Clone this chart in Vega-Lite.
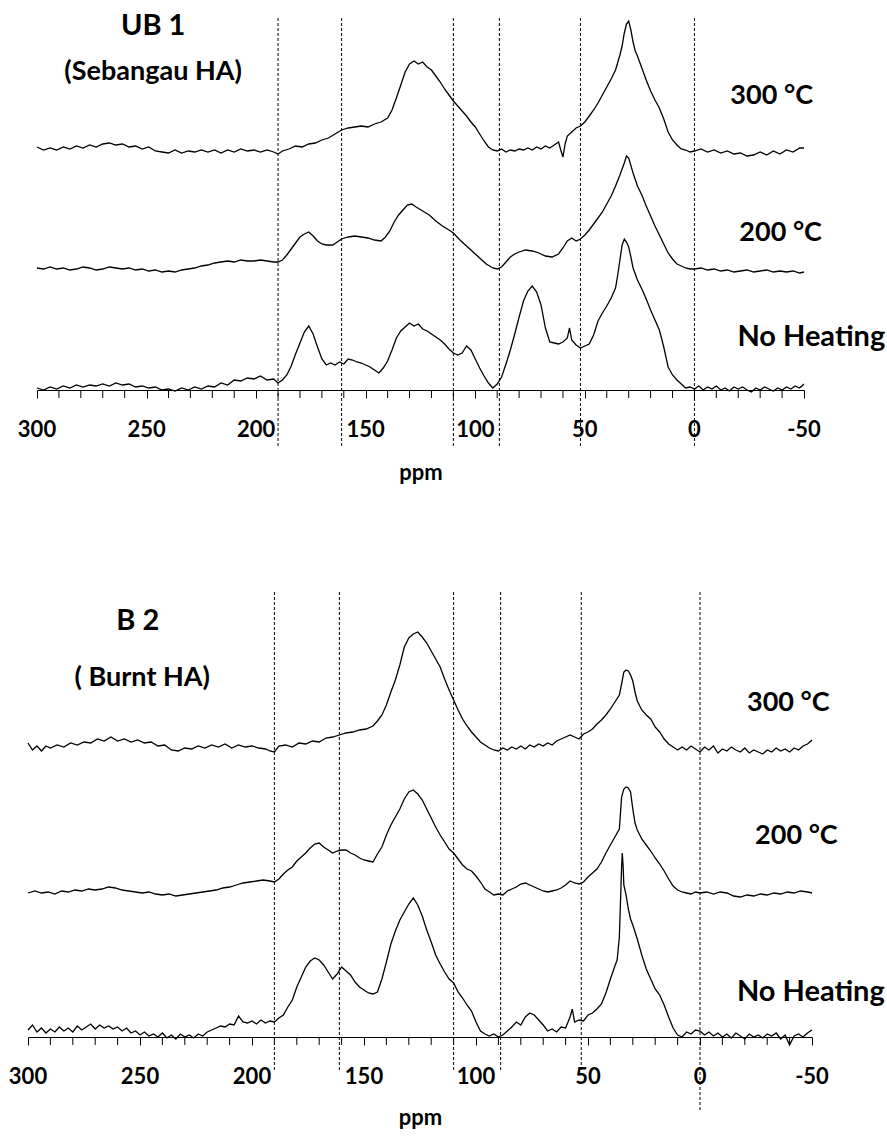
{
 "$schema": "https://vega.github.io/schema/vega-lite/v6.json",
 "background": "white",
 "padding": {"left": 8, "top": 11, "right": 5, "bottom": 5},
 "spacing": 107,
 "config": {"view": {"stroke": null}, "font": "Lato"},
 "datasets": {
  "minor": [{"ppm":290},{"ppm":280},{"ppm":270},{"ppm":260},{"ppm":240},{"ppm":230},{"ppm":220},{"ppm":210},{"ppm":190},{"ppm":180},{"ppm":170},{"ppm":160},{"ppm":140},{"ppm":130},{"ppm":120},{"ppm":110},{"ppm":90},{"ppm":80},{"ppm":70},{"ppm":60},{"ppm":40},{"ppm":30},{"ppm":20},{"ppm":10},{"ppm":-10},{"ppm":-20},{"ppm":-30},{"ppm":-40}],
  "ticklabels": [{"ppm":300,"label":"300"},{"ppm":250,"label":"250"},{"ppm":200,"label":"200"},{"ppm":150,"label":"150"},{"ppm":100,"label":"100"},{"ppm":50,"label":"50"},{"ppm":0,"label":"0"},{"ppm":-50,"label":"-50"}],
  "ub300": [{"ppm":300,"v":243},{"ppm":297,"v":240},{"ppm":294,"v":242},{"ppm":291,"v":240},{"ppm":288,"v":243},{"ppm":285,"v":241},{"ppm":282,"v":244},{"ppm":279,"v":242},{"ppm":276,"v":245},{"ppm":273,"v":243},{"ppm":270,"v":246},{"ppm":267,"v":247},{"ppm":264,"v":245},{"ppm":261,"v":246},{"ppm":258,"v":243},{"ppm":255,"v":244},{"ppm":252,"v":241},{"ppm":249,"v":243},{"ppm":246,"v":239},{"ppm":243,"v":238},{"ppm":240,"v":237},{"ppm":237,"v":240},{"ppm":234,"v":237},{"ppm":231,"v":239},{"ppm":228,"v":238},{"ppm":225,"v":240},{"ppm":222,"v":238},{"ppm":219,"v":240},{"ppm":216,"v":237},{"ppm":213,"v":240},{"ppm":210,"v":238},{"ppm":207,"v":241},{"ppm":204,"v":239},{"ppm":201,"v":240},{"ppm":198,"v":238},{"ppm":195,"v":240},{"ppm":192,"v":238},{"ppm":190,"v":236},{"ppm":188,"v":239},{"ppm":185,"v":241},{"ppm":182,"v":244},{"ppm":179,"v":243},{"ppm":176,"v":246},{"ppm":173,"v":247},{"ppm":170,"v":250},{"ppm":167,"v":252},{"ppm":164,"v":256},{"ppm":161,"v":260},{"ppm":158,"v":262},{"ppm":155,"v":263},{"ppm":152,"v":264},{"ppm":149,"v":263},{"ppm":146,"v":266},{"ppm":143,"v":268},{"ppm":140,"v":272},{"ppm":138,"v":280},{"ppm":136,"v":292},{"ppm":134,"v":305},{"ppm":132,"v":318},{"ppm":130,"v":326},{"ppm":128,"v":329},{"ppm":126,"v":326},{"ppm":124,"v":328},{"ppm":122,"v":323},{"ppm":120,"v":320},{"ppm":118,"v":314},{"ppm":116,"v":308},{"ppm":114,"v":301},{"ppm":112,"v":295},{"ppm":110,"v":289},{"ppm":108,"v":284},{"ppm":106,"v":279},{"ppm":104,"v":274},{"ppm":102,"v":268},{"ppm":100,"v":263},{"ppm":98,"v":256},{"ppm":96,"v":249},{"ppm":94,"v":243},{"ppm":92,"v":240},{"ppm":90,"v":239},{"ppm":88,"v":241},{"ppm":86,"v":238},{"ppm":84,"v":240},{"ppm":82,"v":239},{"ppm":80,"v":241},{"ppm":78,"v":240},{"ppm":76,"v":242},{"ppm":74,"v":240},{"ppm":72,"v":243},{"ppm":70,"v":241},{"ppm":68,"v":244},{"ppm":66,"v":242},{"ppm":64,"v":245},{"ppm":62,"v":248},{"ppm":61,"v":240},{"ppm":60,"v":233},{"ppm":59,"v":246},{"ppm":58,"v":254},{"ppm":56,"v":258},{"ppm":54,"v":262},{"ppm":52,"v":264},{"ppm":50,"v":268},{"ppm":48,"v":274},{"ppm":46,"v":280},{"ppm":44,"v":287},{"ppm":42,"v":295},{"ppm":40,"v":303},{"ppm":38,"v":311},{"ppm":36,"v":320},{"ppm":34,"v":335},{"ppm":33,"v":344},{"ppm":32,"v":357},{"ppm":31,"v":366},{"ppm":30,"v":369},{"ppm":29,"v":360},{"ppm":28,"v":348},{"ppm":27,"v":339},{"ppm":26,"v":334},{"ppm":24,"v":322},{"ppm":22,"v":310},{"ppm":20,"v":299},{"ppm":18,"v":290},{"ppm":16,"v":282},{"ppm":14,"v":271},{"ppm":12,"v":258},{"ppm":10,"v":250},{"ppm":8,"v":245},{"ppm":6,"v":241},{"ppm":4,"v":240},{"ppm":2,"v":238},{"ppm":0,"v":239},{"ppm":-3,"v":241},{"ppm":-6,"v":238},{"ppm":-9,"v":240},{"ppm":-12,"v":237},{"ppm":-15,"v":239},{"ppm":-18,"v":236},{"ppm":-21,"v":237},{"ppm":-24,"v":234},{"ppm":-27,"v":235},{"ppm":-30,"v":238},{"ppm":-33,"v":235},{"ppm":-36,"v":239},{"ppm":-39,"v":236},{"ppm":-42,"v":240},{"ppm":-45,"v":238},{"ppm":-48,"v":242},{"ppm":-50,"v":242}],
  "ub200": [{"ppm":300,"v":122},{"ppm":297,"v":121},{"ppm":294,"v":123},{"ppm":291,"v":121},{"ppm":288,"v":122},{"ppm":285,"v":120},{"ppm":282,"v":121},{"ppm":279,"v":123},{"ppm":276,"v":122},{"ppm":273,"v":120},{"ppm":270,"v":121},{"ppm":267,"v":123},{"ppm":264,"v":122},{"ppm":261,"v":121},{"ppm":258,"v":122},{"ppm":255,"v":120},{"ppm":252,"v":121},{"ppm":249,"v":119},{"ppm":246,"v":120},{"ppm":243,"v":118},{"ppm":240,"v":119},{"ppm":237,"v":118},{"ppm":234,"v":120},{"ppm":231,"v":121},{"ppm":228,"v":122},{"ppm":225,"v":124},{"ppm":222,"v":125},{"ppm":219,"v":127},{"ppm":216,"v":128},{"ppm":213,"v":129},{"ppm":210,"v":128},{"ppm":207,"v":130},{"ppm":204,"v":129},{"ppm":201,"v":129},{"ppm":198,"v":130},{"ppm":195,"v":129},{"ppm":192,"v":128},{"ppm":190,"v":128},{"ppm":188,"v":130},{"ppm":186,"v":135},{"ppm":184,"v":141},{"ppm":182,"v":147},{"ppm":180,"v":153},{"ppm":178,"v":156},{"ppm":176,"v":158},{"ppm":174,"v":154},{"ppm":172,"v":149},{"ppm":170,"v":146},{"ppm":168,"v":145},{"ppm":165,"v":145},{"ppm":163,"v":148},{"ppm":161,"v":151},{"ppm":158,"v":153},{"ppm":155,"v":154},{"ppm":152,"v":153},{"ppm":149,"v":152},{"ppm":146,"v":150},{"ppm":143,"v":149},{"ppm":141,"v":153},{"ppm":139,"v":159},{"ppm":137,"v":168},{"ppm":135,"v":175},{"ppm":133,"v":180},{"ppm":131,"v":185},{"ppm":129,"v":186},{"ppm":127,"v":183},{"ppm":124,"v":179},{"ppm":121,"v":175},{"ppm":118,"v":169},{"ppm":115,"v":164},{"ppm":112,"v":160},{"ppm":110,"v":157},{"ppm":107,"v":150},{"ppm":104,"v":144},{"ppm":101,"v":138},{"ppm":98,"v":132},{"ppm":95,"v":126},{"ppm":92,"v":122},{"ppm":90,"v":121},{"ppm":88,"v":123},{"ppm":86,"v":128},{"ppm":84,"v":133},{"ppm":82,"v":136},{"ppm":80,"v":138},{"ppm":77,"v":140},{"ppm":74,"v":139},{"ppm":71,"v":137},{"ppm":68,"v":134},{"ppm":65,"v":133},{"ppm":62,"v":136},{"ppm":60,"v":142},{"ppm":58,"v":149},{"ppm":56,"v":152},{"ppm":54,"v":149},{"ppm":52,"v":151},{"ppm":50,"v":155},{"ppm":48,"v":160},{"ppm":46,"v":166},{"ppm":44,"v":172},{"ppm":42,"v":178},{"ppm":40,"v":186},{"ppm":38,"v":194},{"ppm":36,"v":204},{"ppm":34,"v":215},{"ppm":32,"v":227},{"ppm":31,"v":234},{"ppm":30,"v":232},{"ppm":28,"v":217},{"ppm":26,"v":204},{"ppm":24,"v":195},{"ppm":22,"v":184},{"ppm":20,"v":174},{"ppm":18,"v":164},{"ppm":16,"v":155},{"ppm":14,"v":146},{"ppm":12,"v":137},{"ppm":10,"v":131},{"ppm":8,"v":126},{"ppm":6,"v":124},{"ppm":4,"v":122},{"ppm":2,"v":121},{"ppm":0,"v":121},{"ppm":-3,"v":122},{"ppm":-6,"v":120},{"ppm":-9,"v":121},{"ppm":-12,"v":119},{"ppm":-15,"v":120},{"ppm":-18,"v":118},{"ppm":-21,"v":119},{"ppm":-24,"v":120},{"ppm":-27,"v":118},{"ppm":-30,"v":119},{"ppm":-33,"v":120},{"ppm":-36,"v":118},{"ppm":-39,"v":119},{"ppm":-42,"v":118},{"ppm":-45,"v":119},{"ppm":-48,"v":117},{"ppm":-50,"v":118}],
  "ubnh": [{"ppm":300,"v":2},{"ppm":297,"v":0},{"ppm":294,"v":3},{"ppm":291,"v":1},{"ppm":288,"v":4},{"ppm":285,"v":2},{"ppm":282,"v":5},{"ppm":279,"v":3},{"ppm":276,"v":5},{"ppm":273,"v":4},{"ppm":270,"v":6},{"ppm":267,"v":4},{"ppm":264,"v":7},{"ppm":261,"v":5},{"ppm":258,"v":6},{"ppm":255,"v":3},{"ppm":252,"v":4},{"ppm":249,"v":2},{"ppm":246,"v":3},{"ppm":243,"v":0},{"ppm":240,"v":1},{"ppm":237,"v":-1},{"ppm":234,"v":2},{"ppm":231,"v":0},{"ppm":228,"v":3},{"ppm":225,"v":1},{"ppm":222,"v":4},{"ppm":219,"v":3},{"ppm":216,"v":7},{"ppm":213,"v":5},{"ppm":210,"v":10},{"ppm":207,"v":9},{"ppm":204,"v":12},{"ppm":201,"v":11},{"ppm":198,"v":14},{"ppm":195,"v":10},{"ppm":192,"v":11},{"ppm":190,"v":7},{"ppm":188,"v":10},{"ppm":186,"v":15},{"ppm":184,"v":24},{"ppm":182,"v":36},{"ppm":180,"v":47},{"ppm":178,"v":58},{"ppm":176,"v":64},{"ppm":174,"v":56},{"ppm":172,"v":43},{"ppm":170,"v":31},{"ppm":168,"v":25},{"ppm":166,"v":27},{"ppm":164,"v":25},{"ppm":162,"v":28},{"ppm":160,"v":26},{"ppm":158,"v":31},{"ppm":156,"v":30},{"ppm":154,"v":28},{"ppm":152,"v":27},{"ppm":150,"v":25},{"ppm":148,"v":23},{"ppm":146,"v":20},{"ppm":144,"v":17},{"ppm":142,"v":22},{"ppm":140,"v":29},{"ppm":138,"v":40},{"ppm":136,"v":52},{"ppm":134,"v":59},{"ppm":132,"v":63},{"ppm":130,"v":67},{"ppm":128,"v":64},{"ppm":126,"v":66},{"ppm":124,"v":61},{"ppm":122,"v":59},{"ppm":120,"v":56},{"ppm":118,"v":53},{"ppm":116,"v":50},{"ppm":114,"v":46},{"ppm":112,"v":41},{"ppm":110,"v":37},{"ppm":108,"v":35},{"ppm":106,"v":37},{"ppm":104,"v":44},{"ppm":102,"v":40},{"ppm":100,"v":31},{"ppm":98,"v":22},{"ppm":96,"v":14},{"ppm":94,"v":7},{"ppm":92,"v":2},{"ppm":90,"v":6},{"ppm":88,"v":13},{"ppm":86,"v":26},{"ppm":84,"v":40},{"ppm":82,"v":56},{"ppm":80,"v":73},{"ppm":78,"v":89},{"ppm":76,"v":99},{"ppm":74,"v":104},{"ppm":72,"v":98},{"ppm":70,"v":85},{"ppm":68,"v":62},{"ppm":66,"v":48},{"ppm":64,"v":47},{"ppm":62,"v":46},{"ppm":60,"v":48},{"ppm":58,"v":52},{"ppm":57,"v":62},{"ppm":56,"v":50},{"ppm":54,"v":45},{"ppm":52,"v":42},{"ppm":50,"v":44},{"ppm":48,"v":46},{"ppm":46,"v":55},{"ppm":44,"v":69},{"ppm":42,"v":77},{"ppm":40,"v":84},{"ppm":38,"v":92},{"ppm":36,"v":102},{"ppm":35,"v":115},{"ppm":34,"v":130},{"ppm":33,"v":145},{"ppm":32,"v":151},{"ppm":31,"v":148},{"ppm":30,"v":143},{"ppm":29,"v":133},{"ppm":28,"v":122},{"ppm":26,"v":110},{"ppm":24,"v":101},{"ppm":22,"v":91},{"ppm":20,"v":80},{"ppm":18,"v":70},{"ppm":16,"v":60},{"ppm":14,"v":43},{"ppm":12,"v":23},{"ppm":10,"v":15},{"ppm":8,"v":10},{"ppm":6,"v":6},{"ppm":4,"v":2},{"ppm":2,"v":3},{"ppm":0,"v":1},{"ppm":-2,"v":4},{"ppm":-4,"v":0},{"ppm":-6,"v":3},{"ppm":-8,"v":1},{"ppm":-10,"v":4},{"ppm":-12,"v":0},{"ppm":-14,"v":2},{"ppm":-16,"v":-1},{"ppm":-18,"v":3},{"ppm":-20,"v":1},{"ppm":-22,"v":3},{"ppm":-24,"v":0},{"ppm":-26,"v":-2},{"ppm":-28,"v":2},{"ppm":-30,"v":0},{"ppm":-32,"v":3},{"ppm":-34,"v":1},{"ppm":-36,"v":-1},{"ppm":-38,"v":2},{"ppm":-40,"v":0},{"ppm":-42,"v":3},{"ppm":-44,"v":1},{"ppm":-46,"v":4},{"ppm":-48,"v":2},{"ppm":-50,"v":6}],
  "b300": [{"ppm":300,"v":294},{"ppm":298,"v":287},{"ppm":296,"v":291},{"ppm":294,"v":286},{"ppm":292,"v":291},{"ppm":290,"v":289},{"ppm":287,"v":292},{"ppm":284,"v":290},{"ppm":281,"v":294},{"ppm":278,"v":292},{"ppm":275,"v":295},{"ppm":272,"v":294},{"ppm":269,"v":298},{"ppm":266,"v":296},{"ppm":263,"v":300},{"ppm":260,"v":296},{"ppm":257,"v":298},{"ppm":254,"v":295},{"ppm":251,"v":297},{"ppm":248,"v":294},{"ppm":245,"v":295},{"ppm":242,"v":291},{"ppm":239,"v":292},{"ppm":236,"v":287},{"ppm":233,"v":286},{"ppm":230,"v":289},{"ppm":227,"v":288},{"ppm":224,"v":291},{"ppm":221,"v":289},{"ppm":218,"v":292},{"ppm":215,"v":290},{"ppm":212,"v":293},{"ppm":209,"v":289},{"ppm":206,"v":292},{"ppm":203,"v":290},{"ppm":200,"v":291},{"ppm":197,"v":289},{"ppm":194,"v":288},{"ppm":192,"v":286},{"ppm":190,"v":285},{"ppm":188,"v":291},{"ppm":185,"v":292},{"ppm":182,"v":290},{"ppm":179,"v":294},{"ppm":176,"v":293},{"ppm":173,"v":296},{"ppm":170,"v":295},{"ppm":167,"v":299},{"ppm":164,"v":300},{"ppm":161,"v":302},{"ppm":158,"v":304},{"ppm":155,"v":305},{"ppm":152,"v":307},{"ppm":149,"v":308},{"ppm":146,"v":311},{"ppm":144,"v":316},{"ppm":142,"v":322},{"ppm":140,"v":332},{"ppm":138,"v":345},{"ppm":136,"v":357},{"ppm":134,"v":372},{"ppm":132,"v":390},{"ppm":130,"v":399},{"ppm":128,"v":403},{"ppm":126,"v":405},{"ppm":124,"v":400},{"ppm":122,"v":394},{"ppm":120,"v":386},{"ppm":118,"v":378},{"ppm":116,"v":370},{"ppm":114,"v":358},{"ppm":112,"v":347},{"ppm":110,"v":337},{"ppm":108,"v":327},{"ppm":106,"v":318},{"ppm":104,"v":311},{"ppm":102,"v":305},{"ppm":100,"v":300},{"ppm":98,"v":295},{"ppm":96,"v":292},{"ppm":94,"v":289},{"ppm":92,"v":287},{"ppm":90,"v":286},{"ppm":88,"v":289},{"ppm":86,"v":287},{"ppm":84,"v":290},{"ppm":82,"v":288},{"ppm":80,"v":291},{"ppm":78,"v":288},{"ppm":76,"v":292},{"ppm":74,"v":290},{"ppm":72,"v":293},{"ppm":70,"v":291},{"ppm":68,"v":294},{"ppm":66,"v":292},{"ppm":64,"v":296},{"ppm":62,"v":298},{"ppm":60,"v":300},{"ppm":58,"v":302},{"ppm":56,"v":300},{"ppm":54,"v":298},{"ppm":52,"v":303},{"ppm":50,"v":305},{"ppm":48,"v":308},{"ppm":46,"v":313},{"ppm":44,"v":317},{"ppm":42,"v":322},{"ppm":40,"v":328},{"ppm":38,"v":335},{"ppm":36,"v":342},{"ppm":35,"v":353},{"ppm":34,"v":365},{"ppm":33,"v":367},{"ppm":32,"v":366},{"ppm":31,"v":362},{"ppm":30,"v":356},{"ppm":29,"v":345},{"ppm":28,"v":336},{"ppm":26,"v":327},{"ppm":24,"v":322},{"ppm":22,"v":318},{"ppm":20,"v":310},{"ppm":18,"v":305},{"ppm":16,"v":298},{"ppm":14,"v":293},{"ppm":12,"v":290},{"ppm":10,"v":287},{"ppm":8,"v":290},{"ppm":6,"v":287},{"ppm":4,"v":291},{"ppm":2,"v":288},{"ppm":0,"v":285},{"ppm":-2,"v":290},{"ppm":-4,"v":287},{"ppm":-6,"v":291},{"ppm":-8,"v":284},{"ppm":-10,"v":288},{"ppm":-12,"v":286},{"ppm":-14,"v":290},{"ppm":-16,"v":287},{"ppm":-18,"v":285},{"ppm":-20,"v":289},{"ppm":-22,"v":284},{"ppm":-24,"v":287},{"ppm":-26,"v":285},{"ppm":-28,"v":283},{"ppm":-30,"v":287},{"ppm":-32,"v":285},{"ppm":-34,"v":289},{"ppm":-36,"v":286},{"ppm":-38,"v":288},{"ppm":-40,"v":285},{"ppm":-42,"v":289},{"ppm":-44,"v":287},{"ppm":-46,"v":291},{"ppm":-48,"v":293},{"ppm":-50,"v":297}],
  "b200": [{"ppm":300,"v":144},{"ppm":297,"v":146},{"ppm":294,"v":144},{"ppm":291,"v":145},{"ppm":288,"v":143},{"ppm":285,"v":146},{"ppm":282,"v":145},{"ppm":279,"v":147},{"ppm":276,"v":146},{"ppm":273,"v":148},{"ppm":270,"v":147},{"ppm":267,"v":148},{"ppm":264,"v":150},{"ppm":261,"v":149},{"ppm":258,"v":147},{"ppm":255,"v":146},{"ppm":252,"v":145},{"ppm":249,"v":144},{"ppm":246,"v":145},{"ppm":243,"v":143},{"ppm":240,"v":142},{"ppm":237,"v":143},{"ppm":234,"v":141},{"ppm":231,"v":142},{"ppm":228,"v":143},{"ppm":225,"v":144},{"ppm":222,"v":145},{"ppm":219,"v":146},{"ppm":216,"v":147},{"ppm":213,"v":149},{"ppm":210,"v":150},{"ppm":207,"v":152},{"ppm":204,"v":154},{"ppm":201,"v":155},{"ppm":198,"v":156},{"ppm":195,"v":157},{"ppm":192,"v":156},{"ppm":190,"v":155},{"ppm":188,"v":158},{"ppm":186,"v":163},{"ppm":184,"v":167},{"ppm":182,"v":170},{"ppm":180,"v":176},{"ppm":178,"v":180},{"ppm":176,"v":184},{"ppm":174,"v":189},{"ppm":172,"v":193},{"ppm":170,"v":194},{"ppm":168,"v":190},{"ppm":166,"v":187},{"ppm":164,"v":184},{"ppm":162,"v":186},{"ppm":160,"v":187},{"ppm":158,"v":187},{"ppm":156,"v":184},{"ppm":154,"v":182},{"ppm":152,"v":179},{"ppm":150,"v":177},{"ppm":148,"v":176},{"ppm":146,"v":175},{"ppm":144,"v":183},{"ppm":142,"v":190},{"ppm":140,"v":202},{"ppm":138,"v":212},{"ppm":136,"v":220},{"ppm":134,"v":228},{"ppm":132,"v":238},{"ppm":130,"v":245},{"ppm":128,"v":247},{"ppm":126,"v":243},{"ppm":124,"v":237},{"ppm":122,"v":228},{"ppm":120,"v":219},{"ppm":118,"v":210},{"ppm":116,"v":202},{"ppm":114,"v":195},{"ppm":112,"v":188},{"ppm":110,"v":184},{"ppm":108,"v":178},{"ppm":106,"v":172},{"ppm":104,"v":168},{"ppm":102,"v":166},{"ppm":100,"v":161},{"ppm":98,"v":155},{"ppm":96,"v":148},{"ppm":94,"v":145},{"ppm":92,"v":142},{"ppm":90,"v":143},{"ppm":88,"v":142},{"ppm":86,"v":146},{"ppm":84,"v":148},{"ppm":82,"v":150},{"ppm":80,"v":153},{"ppm":78,"v":154},{"ppm":76,"v":152},{"ppm":74,"v":150},{"ppm":72,"v":148},{"ppm":70,"v":146},{"ppm":68,"v":145},{"ppm":66,"v":146},{"ppm":64,"v":147},{"ppm":62,"v":149},{"ppm":60,"v":152},{"ppm":58,"v":156},{"ppm":56,"v":154},{"ppm":54,"v":153},{"ppm":52,"v":155},{"ppm":50,"v":160},{"ppm":48,"v":164},{"ppm":46,"v":168},{"ppm":44,"v":175},{"ppm":42,"v":184},{"ppm":40,"v":192},{"ppm":38,"v":200},{"ppm":36,"v":208},{"ppm":35,"v":240},{"ppm":34,"v":248},{"ppm":33,"v":250},{"ppm":32,"v":249},{"ppm":31,"v":245},{"ppm":30,"v":228},{"ppm":29,"v":214},{"ppm":28,"v":207},{"ppm":26,"v":198},{"ppm":24,"v":192},{"ppm":22,"v":186},{"ppm":20,"v":179},{"ppm":18,"v":173},{"ppm":16,"v":166},{"ppm":14,"v":158},{"ppm":12,"v":151},{"ppm":10,"v":147},{"ppm":8,"v":145},{"ppm":6,"v":144},{"ppm":4,"v":143},{"ppm":2,"v":145},{"ppm":0,"v":144},{"ppm":-3,"v":145},{"ppm":-6,"v":143},{"ppm":-9,"v":145},{"ppm":-12,"v":144},{"ppm":-15,"v":141},{"ppm":-18,"v":140},{"ppm":-21,"v":142},{"ppm":-24,"v":141},{"ppm":-27,"v":143},{"ppm":-30,"v":142},{"ppm":-33,"v":144},{"ppm":-36,"v":143},{"ppm":-39,"v":145},{"ppm":-42,"v":144},{"ppm":-45,"v":146},{"ppm":-48,"v":145},{"ppm":-50,"v":144}],
  "bnh": [{"ppm":300,"v":7},{"ppm":298,"v":12},{"ppm":296,"v":5},{"ppm":294,"v":9},{"ppm":292,"v":4},{"ppm":290,"v":8},{"ppm":288,"v":5},{"ppm":286,"v":10},{"ppm":284,"v":6},{"ppm":282,"v":9},{"ppm":280,"v":5},{"ppm":278,"v":11},{"ppm":276,"v":7},{"ppm":274,"v":10},{"ppm":272,"v":13},{"ppm":270,"v":8},{"ppm":268,"v":12},{"ppm":266,"v":9},{"ppm":264,"v":11},{"ppm":262,"v":8},{"ppm":260,"v":10},{"ppm":258,"v":6},{"ppm":256,"v":9},{"ppm":254,"v":4},{"ppm":252,"v":6},{"ppm":250,"v":2},{"ppm":248,"v":5},{"ppm":246,"v":1},{"ppm":244,"v":3},{"ppm":242,"v":0},{"ppm":240,"v":4},{"ppm":238,"v":-1},{"ppm":236,"v":2},{"ppm":234,"v":-2},{"ppm":232,"v":3},{"ppm":230,"v":0},{"ppm":228,"v":2},{"ppm":226,"v":-1},{"ppm":224,"v":3},{"ppm":222,"v":1},{"ppm":220,"v":5},{"ppm":218,"v":7},{"ppm":216,"v":9},{"ppm":214,"v":11},{"ppm":212,"v":10},{"ppm":210,"v":13},{"ppm":208,"v":12},{"ppm":206,"v":21},{"ppm":204,"v":15},{"ppm":202,"v":14},{"ppm":200,"v":16},{"ppm":198,"v":13},{"ppm":196,"v":17},{"ppm":194,"v":14},{"ppm":192,"v":16},{"ppm":190,"v":15},{"ppm":188,"v":19},{"ppm":186,"v":22},{"ppm":184,"v":30},{"ppm":182,"v":37},{"ppm":180,"v":50},{"ppm":178,"v":60},{"ppm":176,"v":70},{"ppm":174,"v":76},{"ppm":172,"v":79},{"ppm":170,"v":77},{"ppm":168,"v":72},{"ppm":166,"v":65},{"ppm":164,"v":58},{"ppm":162,"v":63},{"ppm":160,"v":70},{"ppm":158,"v":66},{"ppm":156,"v":62},{"ppm":154,"v":55},{"ppm":152,"v":50},{"ppm":150,"v":47},{"ppm":148,"v":44},{"ppm":146,"v":43},{"ppm":144,"v":45},{"ppm":142,"v":58},{"ppm":140,"v":75},{"ppm":138,"v":93},{"ppm":136,"v":106},{"ppm":134,"v":117},{"ppm":132,"v":125},{"ppm":130,"v":133},{"ppm":128,"v":139},{"ppm":126,"v":132},{"ppm":124,"v":121},{"ppm":122,"v":107},{"ppm":120,"v":95},{"ppm":118,"v":82},{"ppm":116,"v":73},{"ppm":114,"v":65},{"ppm":112,"v":58},{"ppm":110,"v":54},{"ppm":108,"v":45},{"ppm":106,"v":39},{"ppm":104,"v":32},{"ppm":102,"v":26},{"ppm":100,"v":15},{"ppm":98,"v":6},{"ppm":96,"v":3},{"ppm":94,"v":1},{"ppm":92,"v":3},{"ppm":90,"v":0},{"ppm":88,"v":2},{"ppm":86,"v":6},{"ppm":84,"v":10},{"ppm":82,"v":15},{"ppm":80,"v":12},{"ppm":78,"v":20},{"ppm":76,"v":24},{"ppm":74,"v":22},{"ppm":72,"v":17},{"ppm":70,"v":12},{"ppm":68,"v":6},{"ppm":66,"v":8},{"ppm":64,"v":5},{"ppm":62,"v":10},{"ppm":60,"v":9},{"ppm":58,"v":20},{"ppm":57,"v":28},{"ppm":56,"v":15},{"ppm":54,"v":17},{"ppm":52,"v":16},{"ppm":50,"v":22},{"ppm":48,"v":24},{"ppm":46,"v":28},{"ppm":44,"v":33},{"ppm":42,"v":44},{"ppm":40,"v":58},{"ppm":38,"v":71},{"ppm":37,"v":77},{"ppm":36,"v":100},{"ppm":35.5,"v":135},{"ppm":35,"v":170},{"ppm":34.7,"v":184},{"ppm":34.3,"v":170},{"ppm":34,"v":152},{"ppm":33,"v":142},{"ppm":32,"v":128},{"ppm":31,"v":118},{"ppm":30,"v":112},{"ppm":28,"v":98},{"ppm":26,"v":82},{"ppm":24,"v":68},{"ppm":22,"v":58},{"ppm":20,"v":48},{"ppm":18,"v":42},{"ppm":16,"v":32},{"ppm":14,"v":20},{"ppm":12,"v":9},{"ppm":10,"v":2},{"ppm":8,"v":0},{"ppm":6,"v":5},{"ppm":4,"v":3},{"ppm":2,"v":7},{"ppm":0,"v":6},{"ppm":-2,"v":2},{"ppm":-4,"v":5},{"ppm":-6,"v":1},{"ppm":-8,"v":4},{"ppm":-10,"v":0},{"ppm":-12,"v":3},{"ppm":-14,"v":-1},{"ppm":-16,"v":4},{"ppm":-18,"v":1},{"ppm":-20,"v":-2},{"ppm":-22,"v":3},{"ppm":-24,"v":0},{"ppm":-26,"v":2},{"ppm":-28,"v":-1},{"ppm":-30,"v":3},{"ppm":-32,"v":1},{"ppm":-34,"v":4},{"ppm":-36,"v":-2},{"ppm":-38,"v":2},{"ppm":-40,"v":-8},{"ppm":-42,"v":1},{"ppm":-44,"v":3},{"ppm":-46,"v":0},{"ppm":-48,"v":4},{"ppm":-50,"v":7}]
 },
 "vconcat": [
  {
   "width": 784,
   "height": 374,
   "encoding": {
    "x": {"field": "ppm", "type": "quantitative",
          "scale": {"domain": [300, -50], "range": [9, 776], "nice": false},
          "axis": {"values": [300,250,200,150,100,50,0,-50], "labels": false,
                   "grid": false, "tickSize": 8, "tickColor": "black", "domainColor": "black",
                   "title": "ppm", "titleFont": "Lato", "titleFontSize": 22, "titleFontWeight": "bold", "titleColor": "black", "titlePadding": 64}},
    "y": {"type": "quantitative", "scale": {"domain": [0, 374], "nice": false, "zero": false}, "axis": null}
   },
   "layer": [
    {
     "data": {"name": "minor"},
     "mark": {"type": "rule", "color": "black", "strokeWidth": 1},
     "encoding": {"y": {"datum": 0, "type": "quantitative"}, "y2": {"datum": -8}}
    },
    {
     "data": {"name": "ticklabels"},
     "mark": {"type": "text", "font": "Lato", "fontWeight": "bold", "fontSize": 22, "align": "center", "baseline": "top", "color": "black"},
     "encoding": {"y": {"datum": -30, "type": "quantitative"}, "text": {"field": "label"}}
    },
    {
     "data": {"values": [{"ppm":190},{"ppm":161},{"ppm":110},{"ppm":89},{"ppm":52},{"ppm":0}]},
     "mark": {"type": "rule", "color": "black", "strokeWidth": 1, "strokeDash": [3, 2]},
     "encoding": {"y": {"datum": -56, "type": "quantitative"}, "y2": {"datum": 374}}
    },
    {"data": {"name": "ub300"}, "mark": {"type": "line", "color": "black", "strokeWidth": 1.3},
     "encoding": {"y": {"field": "v", "type": "quantitative"}}},
    {"data": {"name": "ub200"}, "mark": {"type": "line", "color": "black", "strokeWidth": 1.3},
     "encoding": {"y": {"field": "v", "type": "quantitative"}}},
    {"data": {"name": "ubnh"}, "mark": {"type": "line", "color": "black", "strokeWidth": 1.3},
     "encoding": {"y": {"field": "v", "type": "quantitative"}}},
    {"data": {"values": [{"label": "UB 1", "ppm": 247}]},
     "mark": {"type": "text", "font": "Lato", "fontWeight": "bold", "fontSize": 29, "align": "center", "baseline": "middle", "color": "black"},
     "encoding": {"y": {"datum": 364, "type": "quantitative"}, "text": {"field": "label"}}},
    {"data": {"values": [{"label": "(Sebangau HA)", "ppm": 247}]},
     "mark": {"type": "text", "font": "Lato", "fontWeight": "bold", "fontSize": 27, "align": "center", "baseline": "middle", "color": "black"},
     "encoding": {"y": {"datum": 318, "type": "quantitative"}, "text": {"field": "label"}}},
    {"data": {"values": [{"label": "300 °C", "ppm": -16.4}]},
     "mark": {"type": "text", "font": "Lato", "fontWeight": "bold", "fontSize": 27, "align": "left", "baseline": "middle", "color": "black"},
     "encoding": {"y": {"datum": 294, "type": "quantitative"}, "text": {"field": "label"}}},
    {"data": {"values": [{"label": "200 °C", "ppm": -20.5}]},
     "mark": {"type": "text", "font": "Lato", "fontWeight": "bold", "fontSize": 27, "align": "left", "baseline": "middle", "color": "black"},
     "encoding": {"y": {"datum": 157, "type": "quantitative"}, "text": {"field": "label"}}},
    {"data": {"values": [{"label": "No Heating", "ppm": -19.6}]},
     "mark": {"type": "text", "font": "Lato", "fontWeight": "bold", "fontSize": 29, "align": "left", "baseline": "middle", "color": "black"},
     "encoding": {"y": {"datum": 53, "type": "quantitative"}, "text": {"field": "label"}}}
   ]
  },
  {
   "width": 784,
   "height": 445,
   "encoding": {
    "x": {"field": "ppm", "type": "quantitative",
          "scale": {"domain": [300, -50], "nice": false},
          "axis": {"values": [300,250,200,150,100,50,0,-50], "labels": false,
                   "grid": false, "tickSize": 8, "tickColor": "black", "domainColor": "black",
                   "title": "ppm", "titleFont": "Lato", "titleFontSize": 22, "titleFontWeight": "bold", "titleColor": "black", "titlePadding": 62}},
    "y": {"type": "quantitative", "scale": {"domain": [0, 445], "nice": false, "zero": false}, "axis": null}
   },
   "layer": [
    {
     "data": {"name": "minor"},
     "mark": {"type": "rule", "color": "black", "strokeWidth": 1},
     "encoding": {"y": {"datum": 0, "type": "quantitative"}, "y2": {"datum": -8}}
    },
    {
     "data": {"name": "ticklabels"},
     "mark": {"type": "text", "font": "Lato", "fontWeight": "bold", "fontSize": 22, "align": "center", "baseline": "top", "color": "black"},
     "encoding": {"y": {"datum": -30, "type": "quantitative"}, "text": {"field": "label"}}
    },
    {
     "data": {"values": [{"ppm":190},{"ppm":161},{"ppm":110},{"ppm":89},{"ppm":53}]},
     "mark": {"type": "rule", "color": "black", "strokeWidth": 1, "strokeDash": [3, 2]},
     "encoding": {"y": {"datum": -33, "type": "quantitative"}, "y2": {"datum": 445}}
    },
    {
     "data": {"values": [{"ppm":0}]},
     "mark": {"type": "rule", "color": "black", "strokeWidth": 1, "strokeDash": [3, 2]},
     "encoding": {"y": {"datum": -73, "type": "quantitative"}, "y2": {"datum": 445}}
    },
    {"data": {"name": "b300"}, "mark": {"type": "line", "color": "black", "strokeWidth": 1.3},
     "encoding": {"y": {"field": "v", "type": "quantitative"}}},
    {"data": {"name": "b200"}, "mark": {"type": "line", "color": "black", "strokeWidth": 1.3},
     "encoding": {"y": {"field": "v", "type": "quantitative"}}},
    {"data": {"name": "bnh"}, "mark": {"type": "line", "color": "black", "strokeWidth": 1.3},
     "encoding": {"y": {"field": "v", "type": "quantitative"}}},
    {"data": {"values": [{"label": "B 2", "ppm": 251}]},
     "mark": {"type": "text", "font": "Lato", "fontWeight": "bold", "fontSize": 29, "align": "center", "baseline": "middle", "color": "black"},
     "encoding": {"y": {"datum": 416, "type": "quantitative"}, "text": {"field": "label"}}},
    {"data": {"values": [{"label": "( Burnt HA)", "ppm": 249}]},
     "mark": {"type": "text", "font": "Lato", "fontWeight": "bold", "fontSize": 27, "align": "center", "baseline": "middle", "color": "black"},
     "encoding": {"y": {"datum": 359, "type": "quantitative"}, "text": {"field": "label"}}},
    {"data": {"values": [{"label": "300 °C", "ppm": -21}]},
     "mark": {"type": "text", "font": "Lato", "fontWeight": "bold", "fontSize": 27, "align": "left", "baseline": "middle", "color": "black"},
     "encoding": {"y": {"datum": 334, "type": "quantitative"}, "text": {"field": "label"}}},
    {"data": {"values": [{"label": "200 °C", "ppm": -24.6}]},
     "mark": {"type": "text", "font": "Lato", "fontWeight": "bold", "fontSize": 27, "align": "left", "baseline": "middle", "color": "black"},
     "encoding": {"y": {"datum": 201, "type": "quantitative"}, "text": {"field": "label"}}},
    {"data": {"values": [{"label": "No Heating", "ppm": -16.5}]},
     "mark": {"type": "text", "font": "Lato", "fontWeight": "bold", "fontSize": 29, "align": "left", "baseline": "middle", "color": "black"},
     "encoding": {"y": {"datum": 45, "type": "quantitative"}, "text": {"field": "label"}}}
   ]
  }
 ]
}
